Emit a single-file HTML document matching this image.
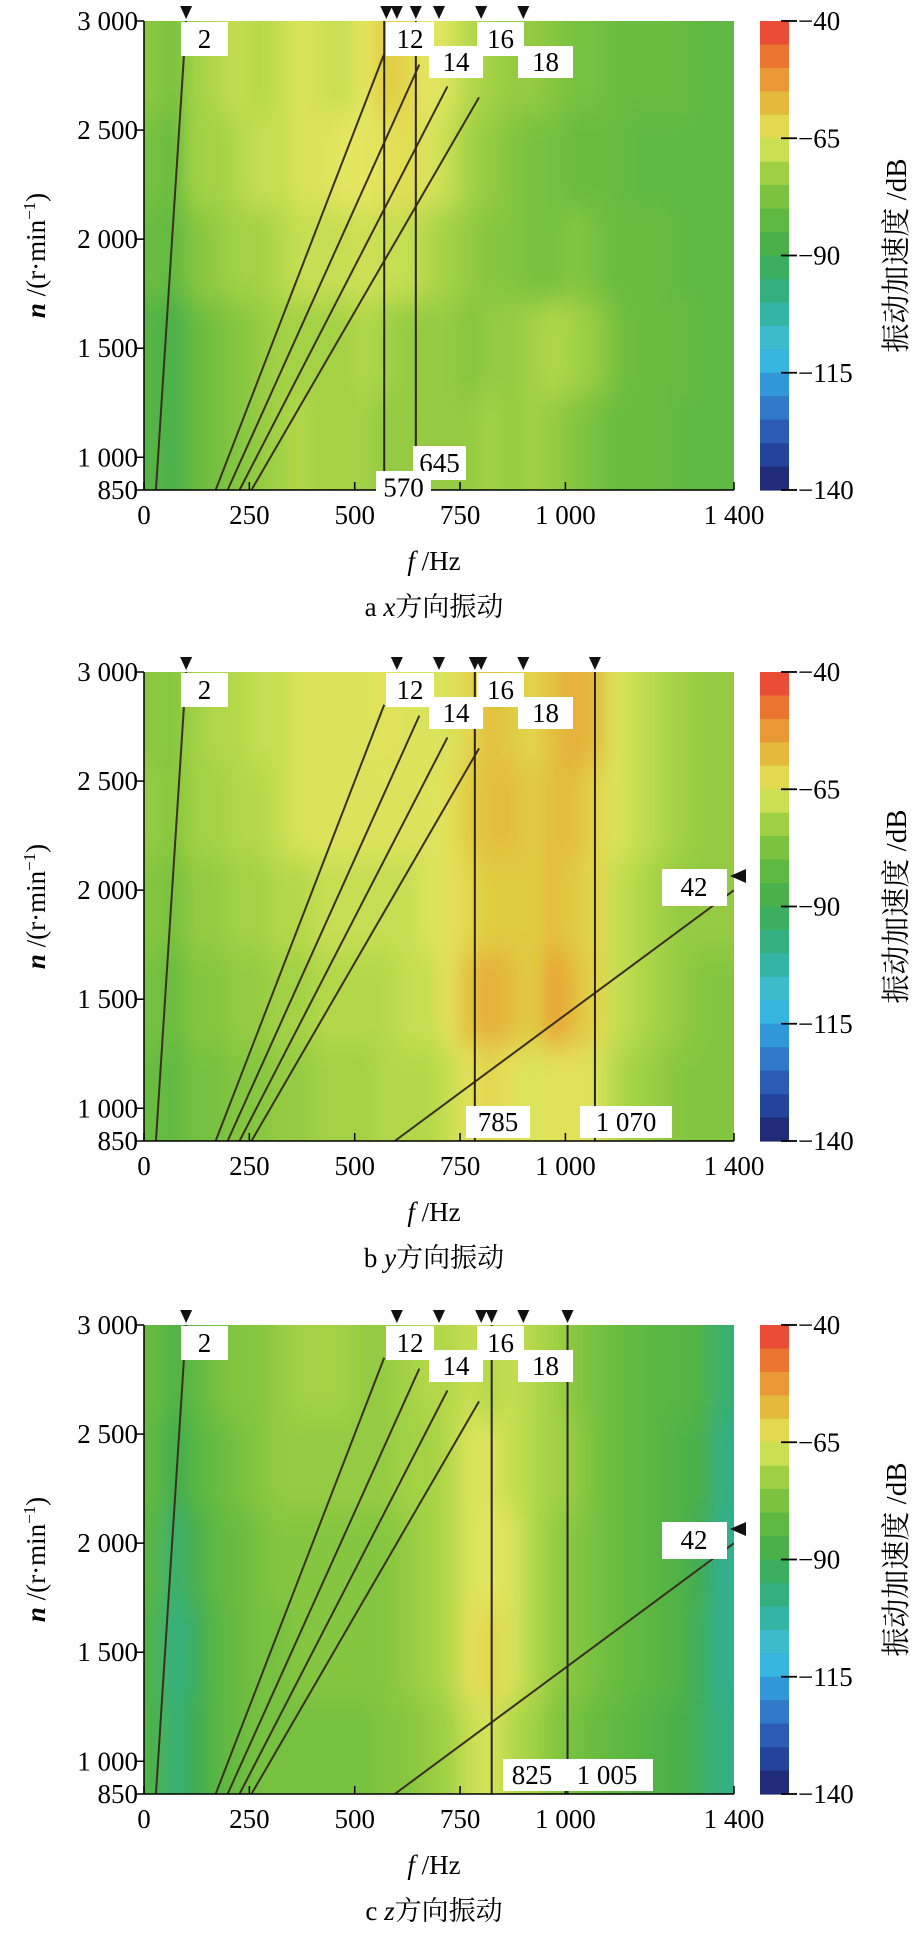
<!DOCTYPE html>
<html><head><meta charset="utf-8">
<style>
html,body{margin:0;padding:0;background:#fff;}
svg{display:block;font-family:"Liberation Serif","Noto Serif CJK SC",serif;}
</style></head>
<body>
<svg id="chart" width="916" height="1945" viewBox="0 0 916 1945" xmlns="http://www.w3.org/2000/svg">
<defs>
<filter id="blur" filterUnits="userSpaceOnUse" x="0" y="0" width="916" height="1945"><feGaussianBlur stdDeviation="9 14"/></filter>
</defs>
</svg>
<script>
// ---------- data ----------
const freqCols = [0,50,100,150,200,250,300,350,400,450,500,550,600,650,700,750,800,850,900,950,1000,1050,1100,1150,1200,1250,1300,1350];
const rpmRows = [3000,2570,2140,1710,1280];
const xTicks = [0,250,500,750,1000,1400];
const xTickLabels = ["0","250","500","750","1 000","1 400"];
const yTicks = [3000,2500,2000,1500,1000,850];
const yTickLabels = ["3 000","2 500","2 000","1 500","1 000","850"];
const cbTicks = [-40,-65,-90,-115,-140];
const orders = [2,12,14,16,18];
const captions = ["a ","b ","c "];
const captionVars = ["x","y","z"];
const heatA = [
[-75,-78,-72,-70,-68,-70,-68,-66,-67,-68,-65,-60,-62,-65,-66,-70,-72,-74,-74,-76,-78,-78,-80,-80,-80,-80,-82,-82],
[-78,-80,-72,-72,-70,-68,-68,-66,-66,-65,-65,-64,-63,-66,-68,-72,-74,-76,-78,-78,-80,-80,-80,-82,-82,-82,-82,-82],
[-80,-82,-76,-74,-72,-72,-70,-68,-68,-68,-67,-68,-68,-70,-72,-74,-76,-76,-78,-78,-76,-78,-80,-80,-80,-82,-82,-82],
[-85,-88,-80,-78,-76,-74,-72,-72,-72,-72,-70,-72,-74,-74,-74,-76,-74,-74,-72,-70,-72,-74,-78,-80,-80,-80,-82,-82],
[-85,-88,-80,-78,-76,-74,-72,-70,-72,-72,-72,-74,-74,-74,-74,-74,-72,-74,-72,-74,-76,-78,-80,-80,-80,-82,-82,-82]];
const heatB = [
[-75,-76,-72,-70,-70,-68,-68,-66,-66,-66,-66,-64,-66,-66,-66,-62,-58,-60,-62,-58,-56,-58,-66,-68,-70,-72,-74,-74],
[-74,-76,-72,-72,-70,-70,-68,-66,-66,-66,-66,-66,-66,-66,-64,-60,-58,-58,-60,-58,-58,-62,-66,-68,-70,-72,-74,-74],
[-76,-78,-74,-74,-72,-72,-70,-70,-68,-68,-68,-68,-68,-66,-64,-62,-60,-60,-60,-58,-60,-62,-68,-70,-72,-74,-74,-74],
[-78,-80,-76,-76,-74,-74,-72,-72,-70,-70,-70,-70,-68,-68,-64,-58,-56,-58,-60,-54,-58,-62,-68,-70,-72,-74,-76,-76],
[-80,-82,-78,-78,-76,-76,-74,-74,-72,-72,-72,-70,-70,-70,-68,-64,-62,-64,-66,-64,-64,-66,-70,-72,-74,-76,-76,-76]];
const heatC = [
[-80,-86,-82,-78,-76,-76,-74,-72,-72,-72,-74,-74,-72,-70,-70,-68,-70,-68,-70,-72,-76,-78,-80,-82,-84,-84,-86,-95],
[-82,-90,-84,-80,-78,-76,-74,-74,-74,-74,-74,-74,-72,-72,-70,-66,-66,-68,-70,-72,-74,-78,-80,-82,-84,-86,-88,-98],
[-84,-95,-88,-82,-80,-78,-76,-76,-76,-76,-76,-76,-74,-72,-70,-66,-65,-66,-70,-74,-76,-78,-80,-82,-84,-86,-90,-100],
[-86,-98,-92,-84,-80,-78,-78,-76,-76,-76,-76,-76,-74,-72,-70,-64,-62,-66,-70,-74,-76,-78,-80,-82,-84,-86,-92,-100],
[-86,-96,-90,-84,-80,-78,-78,-78,-78,-78,-78,-76,-76,-74,-72,-68,-66,-70,-72,-76,-78,-80,-82,-84,-86,-88,-92,-98]];
const vertA = [570,645];
const vertB = [785,1070];
const vertC = [825,1005];
const topMarksA = [100,575,600,645,700,800,900];
const topMarksB = [100,600,700,785,800,900,1070];
const topMarksC = [100,600,700,800,825,900,1005];

// ---------- layout ----------
const NS="http://www.w3.org/2000/svg";
const svg=document.getElementById('chart');
const L=144, W=590, H=469, tops=[21,672,1325];
const CBX=760, CBW=29;
function mk(tag,attrs,parent){const e=document.createElementNS(NS,tag);for(const k in attrs)e.setAttribute(k,attrs[k]);(parent||svg).appendChild(e);return e;}
const stops=[[-40,[232,56,58]],[-45,[236,96,48]],[-50,[232,136,48]],[-55,[232,168,56]],[-60,[224,204,64]],[-65,[228,230,96]],[-70,[178,216,72]],[-75,[140,200,64]],[-80,[104,188,64]],[-85,[84,180,68]],[-90,[64,172,80]],[-95,[56,176,112]],[-100,[48,176,144]],[-105,[56,184,184]],[-110,[64,192,224]],[-115,[48,168,224]],[-120,[48,136,208]],[-125,[48,104,192]],[-130,[40,80,168]],[-135,[32,56,144]],[-140,[32,32,96]]];
function cmap(v){v=Math.max(-140,Math.min(-40,v));for(let i=0;i<stops.length-1;i++){const a=stops[i],b=stops[i+1];if(v<=a[0]&&v>=b[0]){const t=(a[0]-v)/(a[0]-b[0]);const c=a[1].map((x,j)=>Math.round(x+(b[1][j]-x)*t));return `rgb(${c})`;}}return 'rgb(32,32,96)';}

const panels=[
 {heat:heatA,vert:vertA,marks:topMarksA,o42:false,bottom:[["645",413,466,425,459],["570",376,431,450,483]]},
 {heat:heatB,vert:vertB,marks:topMarksB,o42:true,bottom:[["785",466,530,434,466],["1 070",580,672,434,466]]},
 {heat:heatC,vert:vertC,marks:topMarksC,o42:true,bottom:[["825",503,561,434,466],["1 005",561,653,434,466]]}
];
const topLabels=[["2",181,228,1,35],["12",386,434,1,35],["14",429,483,25,57],["16",477,524,1,35],["18",518,573,25,57]];

panels.forEach((p,pi)=>{
  const T=tops[pi];
  const xs=f=>L+f/1400*W;
  const ys=n=>T+H-(n-850)/2150*H;
  const g=mk('g',{});
  
  
  const clipId='clip'+pi;
  const cp=mk('clipPath',{id:clipId},g);mk('rect',{x:L,y:T,width:W,height:H},cp);
  const hg=mk('g',{'clip-path':`url(#${clipId})`},g);
  const hb=mk('g',{filter:'url(#blur)'},hg);
  const rowH=H/rpmRows.length, colW=W/28, E=40;
  const nR=p.heat.length;
  p.heat.forEach((row,ri)=>{row.forEach((v,ci)=>{
    let x=xs(freqCols[ci])-1, w=colW+2, y=T+ri*rowH-1, h=rowH+2;
    if(ci===0){x-=E;w+=E;} if(ci===row.length-1){w+=E;}
    if(ri===0){y-=E;h+=E;} if(ri===nR-1){h+=E;}
    const r=mk('rect',{x:x,y:y,width:w,height:h,fill:cmap(v)},hb);
    
    
  });});
  orders.forEach(k=>{
    const nTop=k===2?3000:(k===12?2850:(k===14?2800:(k===16?2700:2650)));
    const ln=mk('line',{x1:xs(k*850/60),y1:ys(850),x2:xs(k*nTop/60),y2:ys(nTop),stroke:'#3a3020','stroke-width':2},hg);
    
    
  });
  if(p.o42){
    const ln=mk('line',{x1:xs(42*850/60),y1:ys(850),x2:xs(1400),y2:ys(2000),stroke:'#3a3020','stroke-width':2},hg);
    
    
  }
  p.vert.forEach(f=>{
    const ln=mk('line',{x1:xs(f),y1:T,x2:xs(f),y2:T+H,stroke:'#2a2418','stroke-width':2},hg);
    
    
  });
  mk('line',{x1:L,y1:T,x2:L,y2:T+H,stroke:'#000','stroke-width':1.5},g);
  mk('line',{x1:L,y1:T+H,x2:L+W,y2:T+H,stroke:'#000','stroke-width':1.5},g);
  yTicks.forEach((n,i)=>{
    mk('line',{x1:L-8,y1:ys(n),x2:L,y2:ys(n),stroke:'#000','stroke-width':1.5},g);
    const t=mk('text',{x:L-6,y:ys(n)+9,'text-anchor':'end','font-size':27},g);t.textContent=yTickLabels[i];
    
    
  });
  xTicks.forEach((f,i)=>{
    mk('line',{x1:xs(f),y1:T+H,x2:xs(f),y2:T+H-8,stroke:'#000','stroke-width':1.5},g);
    const t=mk('text',{x:xs(f),y:T+H+34,'text-anchor':'middle','font-size':27},g);t.textContent=xTickLabels[i];
    
    
  });
  p.marks.forEach(f=>{
    const x=xs(f);
    const tr=mk('path',{d:`M${x-6},${T-15} L${x+6},${T-15} L${x},${T-2} Z`,fill:'#111'},g);
    
    
  });
  topLabels.forEach(([s,x1,x2,y1,y2])=>{
    mk('rect',{x:x1,y:T+y1,width:x2-x1,height:y2-y1,fill:'#fff'},g);
    const t=mk('text',{x:(x1+x2)/2,y:T+(y1+y2)/2+9,'text-anchor':'middle','font-size':27},g);t.textContent=s;
    
    
  });
  p.bottom.forEach(([s,x1,x2,y1,y2])=>{
    mk('rect',{x:x1,y:T+y1,width:x2-x1,height:y2-y1,fill:'#fff'},g);
    const t=mk('text',{x:(x1+x2)/2,y:T+(y1+y2)/2+9,'text-anchor':'middle','font-size':27},g);t.textContent=s;
    
    
  });
  if(p.o42){
    mk('rect',{x:662,y:T+197,width:65,height:37,fill:'#fff'},g);
    const t=mk('text',{x:694,y:T+224,'text-anchor':'middle','font-size':27},g);t.textContent='42';
    
    
    mk('path',{d:`M730,${T+204} L746,${T+197} L746,${T+211} Z`,fill:'#111'},g);
  }
  const yt=mk('text',{transform:`translate(45,${T+H/2}) rotate(-90)`,'text-anchor':'middle','font-size':27},g);
  yt.innerHTML='<tspan font-style="italic" font-weight="bold">n</tspan> /(r·min<tspan dy="-10" font-size="17">−1</tspan><tspan dy="10">)</tspan>';
  
  
  const xt=mk('text',{x:L+W/2-5,y:T+H+80,'text-anchor':'middle','font-size':27},g);
  xt.innerHTML='<tspan font-style="italic">f</tspan> /Hz';
  
  
  const cap=mk('text',{x:L+W/2-5,y:T+H+126,'text-anchor':'middle','font-size':27},g);
  cap.innerHTML=captions[pi]+'<tspan font-style="italic">'+captionVars[pi]+'</tspan>方向振动';
  
  
  const cb=mk('g',{},g);
  
  
  for(let i=0;i<20;i++){
    const v=-42.5-i*5;
    mk('rect',{x:CBX,y:T+i*H/20,width:CBW,height:H/20+0.6,fill:cmap(v)},cb);
  }
  cbTicks.forEach(v=>{
    const y=T+(-40-v)/100*H;
    mk('line',{x1:CBX+CBW-8,y1:y,x2:CBX+CBW+8,y2:y,stroke:'#000','stroke-width':1.8},cb);
    const t=mk('text',{x:CBX+CBW+9,y:y+9,'font-size':27},cb);t.textContent='−'+(-v);
    
    
  });
  const ct=mk('text',{transform:`translate(906,${T+H/2}) rotate(-90)`,'text-anchor':'middle','font-size':29},g);
  ct.textContent='振动加速度 /dB';
  
  
});
</script>
</body></html>
